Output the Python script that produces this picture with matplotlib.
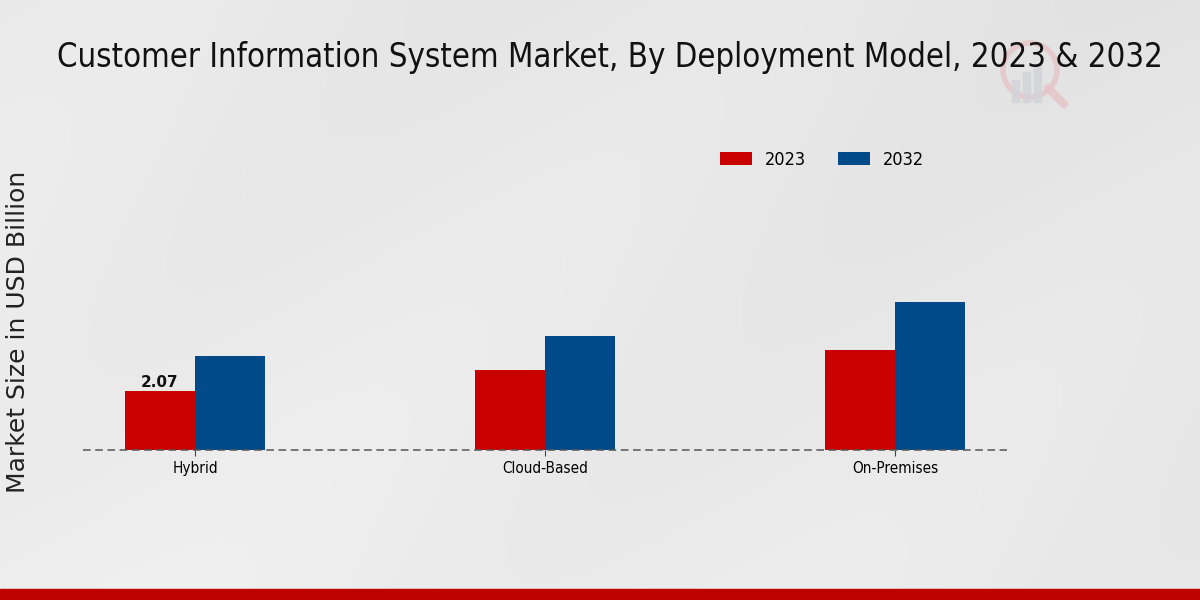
import numpy as np
import matplotlib
matplotlib.use("Agg")
import matplotlib.pyplot as plt
from matplotlib.patches import Ellipse

categories = ["Hybrid", "Cloud-Based", "On-Premises"]
years = ["2023", "2032"]
values_2023 = [2.07, 2.82, 3.52]
values_2032 = [3.31, 4.01, 5.21]
label_2023 = ["2.07", None, None]

colors = ["#C80000", "#004A8A"]

fig = plt.figure(figsize=(12, 6), dpi=100)

# background gradient
bg = fig.add_axes([0, 0, 1, 1], zorder=-10)
yy, xx = np.mgrid[0:1:300j, 0:1:600j]
g = 0.935 - 0.04 * (1 - yy) * 0.5 - 0.02 * xx + 0.008 * np.sin((xx * 2 + yy) * 6)
bg.imshow(np.dstack([g, g, g + 0.003]), aspect="auto", extent=[0, 1, 0, 1], vmin=0, vmax=1)
bg.set_xlim(0, 1); bg.set_ylim(0, 1)
bg.axis("off")
bg.add_patch(plt.Rectangle((0, 0), 1, 11 / 600, color="#BF0000", transform=bg.transAxes))
# faint watermark logo (magnifier with bars)
cx, cy = 1030 / 1200, 1 - 70 / 600
bg.add_patch(Ellipse((cx, cy), 54 / 1200, 54 / 600, transform=bg.transAxes,
                     fill=False, ec="#E6C4C6", lw=4, alpha=0.8))
bg.plot([cx + 18 / 1200, cx + 34 / 1200], [cy - 18 / 600, cy - 34 / 600],
        color="#E6C4C6", lw=6, alpha=0.8, solid_capstyle="round", transform=bg.transAxes)
for i, hgt in enumerate([22, 30, 38]):
    bg.add_patch(plt.Rectangle(((1012 + i * 11) / 1200, 1 - 102 / 600), 7 / 1200, hgt / 600,
                               transform=bg.transAxes, color="#D2D4D8", alpha=0.85))

cond = dict(family="DejaVu Sans", stretch="condensed")

ax = fig.add_axes([83 / 1200, 0.25, (1007 - 83) / 1200, 0.53])
ax.patch.set_alpha(0)
x = np.arange(len(categories))
w = 0.2
b1 = ax.bar(x - w / 2, values_2023, w, color=colors[0], label=years[0])
b2 = ax.bar(x + w / 2, values_2032, w, color=colors[1], label=years[1])
for rect, lab in zip(b1, label_2023):
    if lab:
        ax.text(rect.get_x() + rect.get_width() / 2, rect.get_height() + 0.05, lab,
                ha="center", va="bottom", fontsize=11, fontweight="bold", color="#111111")

ax.set_xlim(-0.32, 2.32)
ax.set_ylim(0, 318 / 28.4)
ax.axhline(0, color="#555555", lw=1.1, ls=(0, (5, 3)), clip_on=False, zorder=5)
for s in ax.spines.values():
    s.set_visible(False)
ax.set_yticks([])
ax.set_xticks(x)
ax.set_xticklabels(categories, fontsize=11, **cond)
ax.tick_params(axis="x", length=4, color="#444444", pad=4)

fig.text(610 / 1200, 1 - 57 / 600, "Customer Information System Market, By Deployment Model, 2023 & 2032",
         ha="center", va="center", fontsize=23.6, color="#111111", **cond)
fig.text(18 / 1200, 1 - 332 / 600, "Market Size in USD Billion", rotation=90,
         ha="center", va="center", fontsize=18, color="#222222")

leg = fig.legend(handles=[b1, b2], labels=years, loc="center", bbox_to_anchor=(822 / 1200, 1 - 160 / 600),
                 ncol=2, frameon=False, handlelength=1.75, handleheight=0.75, handletextpad=0.7,
                 columnspacing=1.8, prop=dict(size=13, **cond))

fig.savefig("out.png", dpi=100)
